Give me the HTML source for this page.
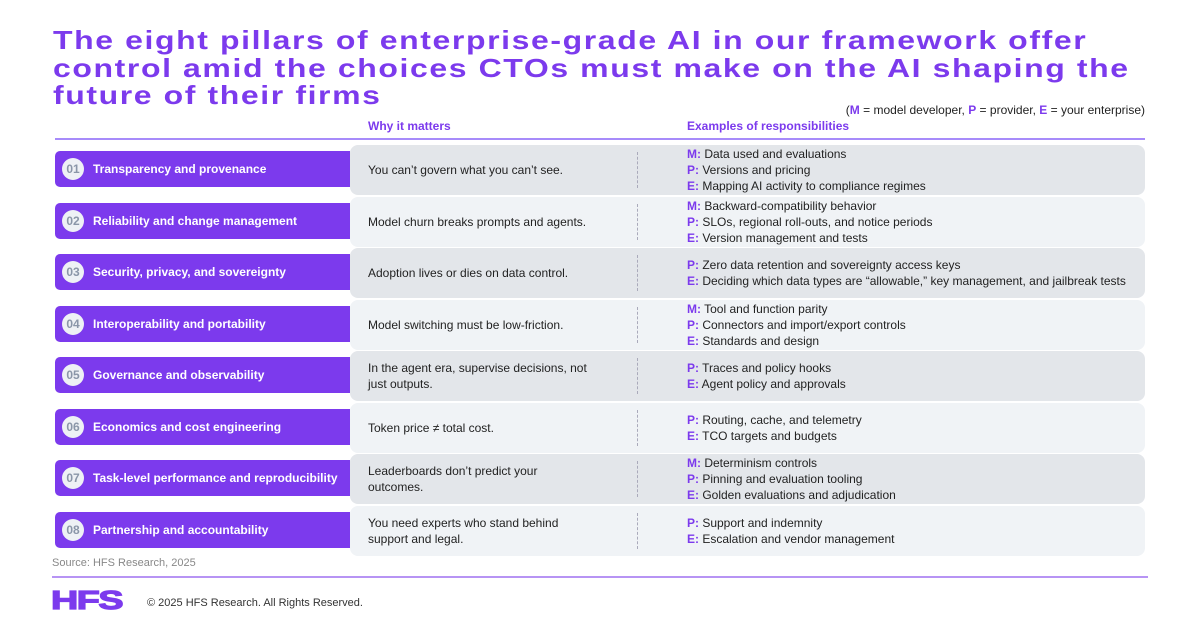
<!DOCTYPE html>
<html><head><meta charset="utf-8"><style>
*{margin:0;padding:0;box-sizing:border-box}
body{width:1200px;height:627px;background:#fff;font-family:"Liberation Sans",sans-serif;position:relative;overflow:hidden;color:#222}
.title{position:absolute;left:53px;top:27px;font-size:26px;font-weight:bold;line-height:27.5px;color:#7c3aed;letter-spacing:1.3px;white-space:nowrap;transform:scaleX(1.23);transform-origin:left}
.legend{position:absolute;right:55px;top:103px;font-size:12px;color:#222}
.p{color:#7c3aed}
.h{position:absolute;top:119px;font-size:12px;font-weight:bold;color:#7c3aed}
.hl{position:absolute;left:55px;top:138px;width:1090px;height:2px;background:#a78bfa}
.row{position:absolute;left:0;width:1200px;height:50px}
.panel{position:absolute;left:350px;top:0;width:795px;height:50px;border-radius:8px}
.tab{position:absolute;left:55px;top:6px;width:295px;height:36px;background:#7c3aed;border-radius:5px 0 0 5px;color:#fff;font-size:12px;font-weight:bold;display:flex;align-items:center}
.num{width:22px;height:22px;border-radius:50%;background:#eef1f5;color:#8a96a8;font-size:12px;font-weight:bold;display:flex;align-items:center;justify-content:center;margin:0 9px 0 7px}
.why{position:absolute;left:368px;top:0;height:50px;width:225px;display:flex;align-items:center;font-size:12px;line-height:16px;color:#222}
.dash{position:absolute;left:637px;top:7px;height:36px;border-left:1px dashed #aab}
.ex{position:absolute;left:687px;top:0;height:50px;display:flex;flex-direction:column;justify-content:center;font-size:12px;line-height:16px;color:#222}
.ex b{color:#7c3aed}
.src{position:absolute;left:52px;top:557px;font-size:11px;color:#888}
.fl{position:absolute;left:52px;top:576px;width:1096px;height:2px;background:#b794f4}
.logo{position:absolute;left:51px;top:585px;font-size:26px;font-weight:900;color:#7c3aed;letter-spacing:-1px;transform:scaleX(1.45);transform-origin:left;-webkit-text-stroke:1.2px #7c3aed}
.copy{position:absolute;left:147px;top:597px;font-size:11px;color:#333}
</style></head><body>
<div class="title">The eight pillars of enterprise-grade AI in our framework offer<br>control amid the choices CTOs must make on the AI shaping the<br>future of their firms</div>
<div class="legend">(<b class="p">M</b> = model developer, <b class="p">P</b> = provider, <b class="p">E</b> = your enterprise)</div>
<div class="h" style="left:368px">Why it matters</div>
<div class="h" style="left:687px">Examples of responsibilities</div>
<div class="hl"></div>

<div class="row" style="top:145px"><div class="panel" style="background:#e3e6ea"></div><div class="tab"><span class="num">01</span>Transparency and provenance</div><div class="why">You can’t govern what you can’t see.</div><div class="dash"></div><div class="ex"><div><b>M:</b> Data used and evaluations</div><div><b>P:</b> Versions and pricing</div><div><b>E:</b> Mapping AI activity to compliance regimes</div></div></div>

<div class="row" style="top:196.5px"><div class="panel" style="background:#f0f3f6"></div><div class="tab"><span class="num">02</span>Reliability and change management</div><div class="why">Model churn breaks prompts and agents.</div><div class="dash"></div><div class="ex"><div><b>M:</b> Backward-compatibility behavior</div><div><b>P:</b> SLOs, regional roll-outs, and notice periods</div><div><b>E:</b> Version management and tests</div></div></div>

<div class="row" style="top:248px"><div class="panel" style="background:#e3e6ea"></div><div class="tab"><span class="num">03</span>Security, privacy, and sovereignty</div><div class="why">Adoption lives or dies on data control.</div><div class="dash"></div><div class="ex"><div><b>P:</b> Zero data retention and sovereignty access keys</div><div><b>E:</b> Deciding which data types are “allowable,” key management, and jailbreak tests</div></div></div>

<div class="row" style="top:299.5px"><div class="panel" style="background:#f0f3f6"></div><div class="tab"><span class="num">04</span>Interoperability and portability</div><div class="why">Model switching must be low-friction.</div><div class="dash"></div><div class="ex"><div><b>M:</b> Tool and function parity</div><div><b>P:</b> Connectors and import/export controls</div><div><b>E:</b> Standards and design</div></div></div>

<div class="row" style="top:351px"><div class="panel" style="background:#e3e6ea"></div><div class="tab"><span class="num">05</span>Governance and observability</div><div class="why">In the agent era, supervise decisions, not just outputs.</div><div class="dash"></div><div class="ex"><div><b>P:</b> Traces and policy hooks</div><div><b>E:</b> Agent policy and approvals</div></div></div>

<div class="row" style="top:402.5px"><div class="panel" style="background:#f0f3f6"></div><div class="tab"><span class="num">06</span>Economics and cost engineering</div><div class="why">Token price ≠ total cost.</div><div class="dash"></div><div class="ex"><div><b>P:</b> Routing, cache, and telemetry</div><div><b>E:</b> TCO targets and budgets</div></div></div>

<div class="row" style="top:454px"><div class="panel" style="background:#e3e6ea"></div><div class="tab"><span class="num">07</span>Task-level performance and reproducibility</div><div class="why">Leaderboards don’t predict your outcomes.</div><div class="dash"></div><div class="ex"><div><b>M:</b> Determinism controls</div><div><b>P:</b> Pinning and evaluation tooling</div><div><b>E:</b> Golden evaluations and adjudication</div></div></div>

<div class="row" style="top:505.5px"><div class="panel" style="background:#f0f3f6"></div><div class="tab"><span class="num">08</span>Partnership and accountability</div><div class="why">You need experts who stand behind support and legal.</div><div class="dash"></div><div class="ex"><div><b>P:</b> Support and indemnity</div><div><b>E:</b> Escalation and vendor management</div></div></div>

<div class="src">Source: HFS Research, 2025</div>
<div class="fl"></div>
<div class="logo">HFS</div>
<div class="copy">© 2025 HFS Research. All Rights Reserved.</div>
</body></html>
